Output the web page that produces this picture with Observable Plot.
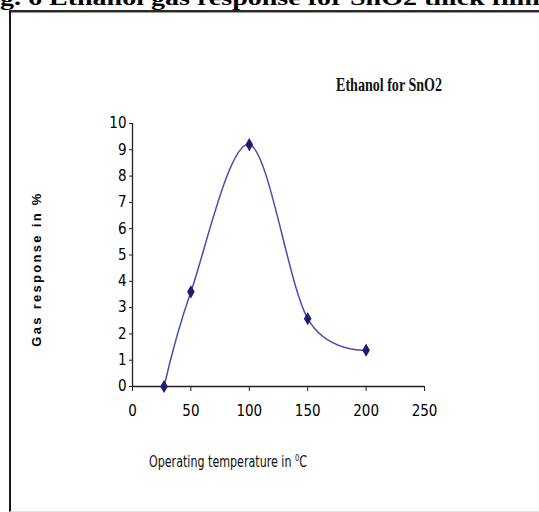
<!DOCTYPE html>
<html>
<head>
<meta charset="utf-8">
<script src="https://cdn.jsdelivr.net/npm/d3@7"></script>
<script src="https://cdn.jsdelivr.net/npm/@observablehq/plot@0.6"></script>
<style>
  html, body { margin: 0; padding: 0; background: #fff; overflow: hidden; }
  #wrap { position: relative; width: 539px; height: 512px; overflow: hidden; background: #fff; }
  #frame { position: absolute; left: 9px; top: 10px; width: 545px; height: 499px;
           border-left: 2px solid #1a1a1a; border-top: 2px solid #2a2a2a; border-bottom: 1px solid #e4e4e4;
           box-shadow: inset 0 1px 0 #999; }
  #figtitle { position: absolute; left: 0; top: -15px; white-space: nowrap;
              font: bold 22px "Liberation Serif", "DejaVu Serif", serif; color: #000; transform-origin: 0 0; }
  #chart { position: absolute; left: 0; top: 0; }
  #inner { position: absolute; left: 336px; top: 75px; white-space: nowrap;
           font: bold 18px "Liberation Serif", serif; color: #111; transform-origin: 0 0; }
  #ylab { position: absolute; left: 36px; top: 269px; white-space: nowrap;
          font: bold 13px "Liberation Sans", Arial, sans-serif; letter-spacing: 2.3px; color: #000;
          transform: translate(-50%, -50%) rotate(-90deg); }
  #xlab { position: absolute; left: 149px; top: 453px; white-space: nowrap;
          font: 15px "Liberation Sans Narrow", "DejaVu Sans Condensed", sans-serif; color: #111; transform-origin: 0 0; }
  #xlab sup { font-size: 9px; vertical-align: 6px; }
</style>
</head>
<body>
<div id="wrap">
  <div id="figtitle"><span id="fi">Fi</span>g. 6 Ethanol gas response for SnO2 thick film</div>
  <div id="frame"></div>
  <div id="chart"></div>
  <div id="inner">Ethanol for SnO2</div>
  <div id="ylab">Gas response in %</div>
  <div id="xlab">Operating temperature in <sup>0</sup>C</div>
</div>
<script>
const temperatures = [27, 50, 100, 150, 200];
const gasResponse = [0, 3.6, 9.2, 2.58, 1.38];
const xTicks = [0, 50, 100, 150, 200, 250];
const yTicks = [0, 1, 2, 3, 4, 5, 6, 7, 8, 9, 10];

const data = temperatures.map((t, i) => ({t, r: gasResponse[i]}));

const chart = Plot.plot({
  width: 539,
  height: 512,
  marginLeft: 132,
  marginRight: 115,
  marginTop: 123,
  marginBottom: 126,
  style: { background: "transparent", fontFamily: "'Liberation Sans Narrow', 'DejaVu Sans Condensed', sans-serif", fontSize: "15px", color: "#000" },
  x: { domain: [0, 250] },
  y: { domain: [0, 10] },
  marks: [
    Plot.ruleY([0], { stroke: "#222", strokeWidth: 1.3 }),
    Plot.ruleX([0], { stroke: "#222", strokeWidth: 1.3 }),
    Plot.axisX({ ticks: xTicks, tickSize: 5, tickPadding: 14, label: null, stroke: "#222", fill: "#000" }),
    Plot.axisY({ ticks: yTicks, tickSize: 3, tickPadding: 3, label: null, stroke: "#222", fill: "#000" }),
    Plot.line(data, { x: "t", y: "r", curve: "cardinal", tension: 0, stroke: "#4d4daa", strokeWidth: 1.5 }),
    Plot.dot(data, { x: "t", y: "r", symbol: "diamond", r: 4, fill: "#1c1c70", stroke: "none" })
  ]
});
document.getElementById("chart").appendChild(chart);

// fit text widths to the reference's compressed look
function fitWidth(id, w) {
  const el = document.getElementById(id);
  const actual = el.getBoundingClientRect().width;
  if (actual > 0) el.style.transform = `scaleX(${w / actual})`;
}
fitWidth("inner", 106);
fitWidth("xlab", 158);

// page title above the figure: only its lower part shows, "Fi" off the left edge
(function () {
  const el = document.getElementById("figtitle");
  const full = el.getBoundingClientRect().width;
  const fi = document.getElementById("fi").getBoundingClientRect().width;
  const s = 540 / (full - fi);
  el.style.left = (-fi * s) + "px";
  el.style.transform = `scaleX(${s})`;
})();
</script>
</body>
</html>
